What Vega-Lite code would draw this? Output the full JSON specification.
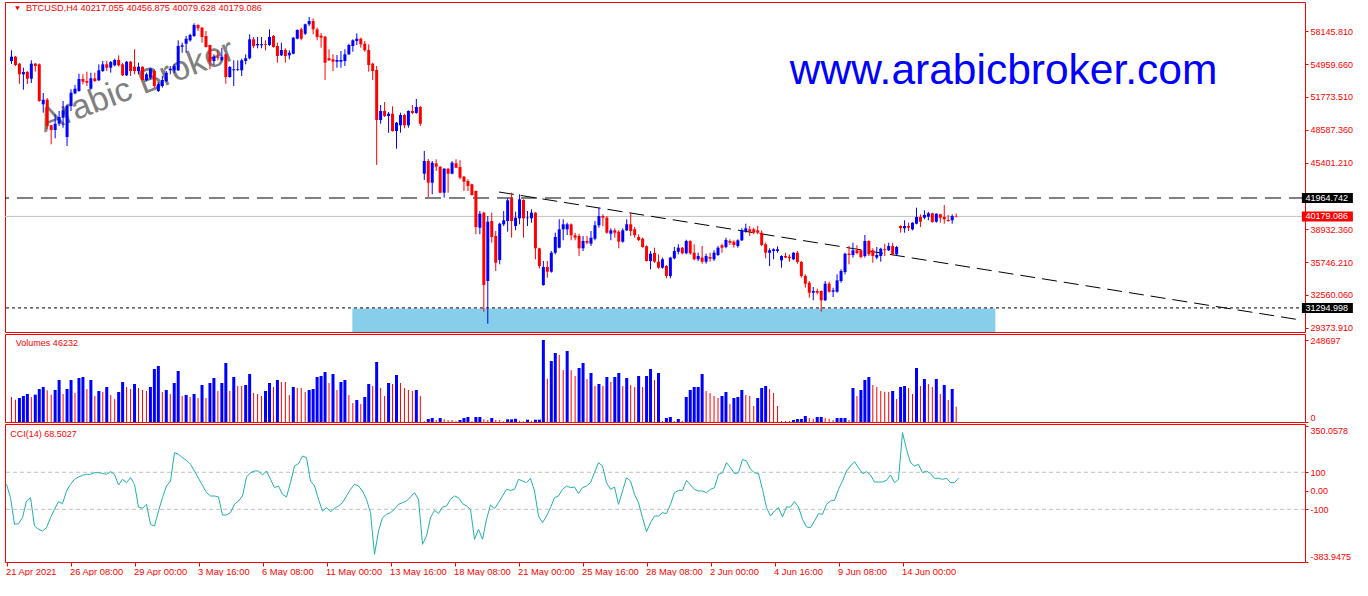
{
"$schema":"https://vega.github.io/schema/vega-lite/v6.json",
"background":"white",
"padding":{"left":4,"top":1,"right":0,"bottom":0},
"config":{"view":{"stroke":"#ff0000","strokeWidth":1},"font":"Liberation Sans",
"axis":{"labelFont":"Liberation Sans","labelFontSize":9,"labelColor":"#ff0000","tickColor":"#ff0000","tickSize":3,"domain":false,"grid":false,"labelOverlap":false}},
"datasets":{"one":[{}],"bars":[
{"i":0,"o":55263,"h":56301,"l":54972,"c":55680,"vol":75825,"vd":"d","cci":35},
{"i":1,"o":55680,"h":55748,"l":54777,"c":54875,"vol":67737,"vd":"d","cci":-37.1},
{"i":2,"o":55001,"h":55069,"l":53059,"c":53972,"vol":72792,"vd":"u","cci":-181.2},
{"i":3,"o":53972,"h":54612,"l":52477,"c":54195,"vol":78858,"vd":"u","cci":-177.6},
{"i":4,"o":54195,"h":54292,"l":53030,"c":53545,"vol":84924,"vd":"u","cci":-145.2},
{"i":5,"o":53545,"h":55331,"l":53127,"c":55001,"vol":75825,"vd":"d","cci":-55.1},
{"i":6,"o":55001,"h":55069,"l":54224,"c":54777,"vol":82902,"vd":"u","cci":-37.1},
{"i":7,"o":54943,"h":55020,"l":51312,"c":51380,"vol":100089,"vd":"u","cci":-190.2},
{"i":8,"o":51060,"h":52157,"l":50244,"c":51506,"vol":106155,"vd":"u","cci":-208.2},
{"i":9,"o":51506,"h":51671,"l":48662,"c":48953,"vol":96045,"vd":"d","cci":-217.3},
{"i":10,"o":49021,"h":49050,"l":47177,"c":48565,"vol":82902,"vd":"d","cci":-199.2},
{"i":11,"o":48565,"h":50089,"l":47759,"c":49176,"vol":97056,"vd":"u","cci":-145.2},
{"i":12,"o":49176,"h":50409,"l":48953,"c":49827,"vol":127386,"vd":"u","cci":-100.1},
{"i":13,"o":49759,"h":51380,"l":48788,"c":50477,"vol":84924,"vd":"d","cci":-58.7},
{"i":14,"o":47885,"h":50992,"l":47012,"c":50894,"vol":100089,"vd":"u","cci":-69.5},
{"i":15,"o":50894,"h":52516,"l":50409,"c":52186,"vol":127386,"vd":"u","cci":-1.1},
{"i":16,"o":52128,"h":52933,"l":52030,"c":52574,"vol":87957,"vd":"d","cci":35},
{"i":17,"o":52351,"h":54030,"l":52283,"c":53516,"vol":133452,"vd":"u","cci":62},
{"i":18,"o":53516,"h":53972,"l":53001,"c":53253,"vol":136485,"vd":"u","cci":74.6},
{"i":19,"o":53321,"h":54224,"l":52836,"c":53156,"vol":100089,"vd":"d","cci":83.6},
{"i":20,"o":52574,"h":54127,"l":52477,"c":53584,"vol":127386,"vd":"u","cci":89},
{"i":21,"o":53584,"h":54127,"l":53224,"c":53321,"vol":78858,"vd":"d","cci":89},
{"i":22,"o":53389,"h":54943,"l":53321,"c":54360,"vol":94023,"vd":"u","cci":98},
{"i":23,"o":54292,"h":55263,"l":54195,"c":54943,"vol":90990,"vd":"d","cci":98},
{"i":24,"o":54943,"h":55263,"l":54292,"c":54612,"vol":106155,"vd":"u","cci":94.4},
{"i":25,"o":54612,"h":55263,"l":54127,"c":55166,"vol":81891,"vd":"d","cci":89},
{"i":26,"o":54845,"h":55486,"l":54748,"c":55360,"vol":69759,"vd":"d","cci":103.4},
{"i":27,"o":55360,"h":55816,"l":54748,"c":54845,"vol":90990,"vd":"u","cci":89},
{"i":28,"o":54943,"h":55069,"l":53807,"c":53875,"vol":121320,"vd":"u","cci":31.4},
{"i":29,"o":53875,"h":55263,"l":53807,"c":55195,"vol":106155,"vd":"d","cci":62},
{"i":30,"o":55195,"h":55263,"l":53807,"c":54292,"vol":100089,"vd":"d","cci":44},
{"i":31,"o":54709,"h":56399,"l":53972,"c":54292,"vol":115254,"vd":"u","cci":71},
{"i":32,"o":54292,"h":55098,"l":53972,"c":54709,"vol":103122,"vd":"d","cci":35},
{"i":33,"o":54709,"h":54740,"l":53389,"c":53418,"vol":97056,"vd":"d","cci":-87.5},
{"i":34,"o":53418,"h":54127,"l":53321,"c":53972,"vol":94023,"vd":"d","cci":-94.7},
{"i":35,"o":53642,"h":54612,"l":53486,"c":54515,"vol":106155,"vd":"u","cci":-73.1},
{"i":36,"o":54292,"h":54457,"l":52671,"c":52836,"vol":160749,"vd":"u","cci":-181.2},
{"i":37,"o":52351,"h":53156,"l":52254,"c":53001,"vol":169848,"vd":"u","cci":-190.2},
{"i":38,"o":52836,"h":53807,"l":52671,"c":53418,"vol":90990,"vd":"d","cci":-109.2},
{"i":39,"o":53321,"h":54292,"l":53224,"c":54127,"vol":97056,"vd":"u","cci":-37.1},
{"i":40,"o":54360,"h":54777,"l":53972,"c":54515,"vol":84924,"vd":"d","cci":26},
{"i":41,"o":54360,"h":54972,"l":54098,"c":54777,"vol":118287,"vd":"u","cci":53},
{"i":42,"o":54360,"h":57272,"l":54292,"c":56719,"vol":154683,"vd":"u","cci":206.1},
{"i":43,"o":56651,"h":57039,"l":56068,"c":56787,"vol":78858,"vd":"d","cci":197.1},
{"i":44,"o":56942,"h":57690,"l":56068,"c":57428,"vol":81891,"vd":"u","cci":179.1},
{"i":45,"o":57272,"h":57913,"l":57136,"c":57787,"vol":75825,"vd":"d","cci":164.7},
{"i":46,"o":57690,"h":58922,"l":57593,"c":58757,"vol":84924,"vd":"u","cci":143.1},
{"i":47,"o":58757,"h":58825,"l":58175,"c":58437,"vol":72792,"vd":"d","cci":107.1},
{"i":48,"o":58495,"h":58563,"l":57039,"c":57593,"vol":112221,"vd":"u","cci":67.4},
{"i":49,"o":57690,"h":58175,"l":56554,"c":56622,"vol":72792,"vd":"d","cci":29.6},
{"i":50,"o":56816,"h":56850,"l":54457,"c":55195,"vol":118287,"vd":"u","cci":-10.1},
{"i":51,"o":55263,"h":55913,"l":54875,"c":55680,"vol":133452,"vd":"u","cci":-28.1},
{"i":52,"o":55680,"h":56301,"l":55331,"c":55583,"vol":94023,"vd":"d","cci":-28.1},
{"i":53,"o":55360,"h":56554,"l":55263,"c":55680,"vol":118287,"vd":"u","cci":-33.5},
{"i":54,"o":55913,"h":55971,"l":53059,"c":53709,"vol":178947,"vd":"u","cci":-130.8},
{"i":55,"o":53709,"h":54777,"l":53642,"c":54681,"vol":94023,"vd":"d","cci":-130.8},
{"i":56,"o":54360,"h":55331,"l":52836,"c":54457,"vol":136485,"vd":"u","cci":-118.2},
{"i":57,"o":54389,"h":55331,"l":54292,"c":54457,"vol":109188,"vd":"d","cci":-73.1},
{"i":58,"o":54360,"h":55486,"l":53807,"c":55331,"vol":109188,"vd":"d","cci":-55.1},
{"i":59,"o":55263,"h":55913,"l":54943,"c":55525,"vol":112221,"vd":"u","cci":-28.1},
{"i":60,"o":55525,"h":57855,"l":55428,"c":57369,"vol":145584,"vd":"u","cci":74.6},
{"i":61,"o":57369,"h":57593,"l":56496,"c":56719,"vol":87957,"vd":"d","cci":98},
{"i":62,"o":56787,"h":57593,"l":56496,"c":56913,"vol":84924,"vd":"d","cci":107.1},
{"i":63,"o":56787,"h":57593,"l":56496,"c":56884,"vol":78858,"vd":"d","cci":107.1},
{"i":64,"o":56884,"h":57272,"l":56301,"c":56816,"vol":94023,"vd":"u","cci":85.4},
{"i":65,"o":56816,"h":58340,"l":56719,"c":57593,"vol":118287,"vd":"u","cci":107.1},
{"i":66,"o":57690,"h":57787,"l":56554,"c":56622,"vol":106155,"vd":"d","cci":62},
{"i":67,"o":56719,"h":57039,"l":55098,"c":55748,"vol":127386,"vd":"u","cci":17},
{"i":68,"o":55816,"h":57039,"l":55748,"c":56330,"vol":121320,"vd":"d","cci":26},
{"i":69,"o":56330,"h":56496,"l":55098,"c":55748,"vol":121320,"vd":"d","cci":-19.1},
{"i":70,"o":55816,"h":56301,"l":55428,"c":56068,"vol":81891,"vd":"d","cci":-33.5},
{"i":71,"o":55971,"h":57593,"l":55913,"c":57525,"vol":106155,"vd":"u","cci":44},
{"i":72,"o":57428,"h":58340,"l":57369,"c":58272,"vol":103122,"vd":"d","cci":134.1},
{"i":73,"o":58340,"h":58495,"l":57272,"c":57428,"vol":103122,"vd":"d","cci":146.7},
{"i":74,"o":57913,"h":58883,"l":57787,"c":58825,"vol":90990,"vd":"d","cci":188.1},
{"i":75,"o":58825,"h":59534,"l":58660,"c":59146,"vol":97056,"vd":"u","cci":179.1},
{"i":76,"o":59146,"h":59408,"l":57855,"c":58340,"vol":100089,"vd":"u","cci":53},
{"i":77,"o":58340,"h":58495,"l":57272,"c":57593,"vol":136485,"vd":"u","cci":26},
{"i":78,"o":57719,"h":57981,"l":56554,"c":57525,"vol":139518,"vd":"u","cci":-46.1},
{"i":79,"o":57622,"h":57690,"l":53418,"c":55098,"vol":151650,"vd":"u","cci":-109.2},
{"i":80,"o":55525,"h":56399,"l":55263,"c":55331,"vol":118287,"vd":"d","cci":-91.1},
{"i":81,"o":55428,"h":55913,"l":54292,"c":55195,"vol":145584,"vd":"u","cci":-112.8},
{"i":82,"o":55195,"h":55845,"l":54612,"c":55360,"vol":97056,"vd":"d","cci":-94.7},
{"i":83,"o":55195,"h":56234,"l":54612,"c":55360,"vol":121320,"vd":"u","cci":-82.1},
{"i":84,"o":55263,"h":56399,"l":54777,"c":55913,"vol":127386,"vd":"u","cci":-64.1},
{"i":85,"o":55913,"h":56942,"l":55845,"c":56816,"vol":81891,"vd":"d","cci":-28.1},
{"i":86,"o":56719,"h":57369,"l":56165,"c":57272,"vol":57627,"vd":"d","cci":8},
{"i":87,"o":57204,"h":57952,"l":56816,"c":57428,"vol":66726,"vd":"u","cci":35},
{"i":88,"o":57428,"h":57525,"l":56554,"c":56884,"vol":54594,"vd":"d","cci":26},
{"i":89,"o":56942,"h":57204,"l":56165,"c":56301,"vol":75825,"vd":"u","cci":-1.1},
{"i":90,"o":56330,"h":56884,"l":54224,"c":54875,"vol":115254,"vd":"u","cci":-46.1},
{"i":91,"o":55001,"h":55098,"l":53418,"c":54292,"vol":109188,"vd":"d","cci":-118.2},
{"i":92,"o":54389,"h":54777,"l":45168,"c":49536,"vol":181980,"vd":"u","cci":-343.4},
{"i":93,"o":49536,"h":50992,"l":49176,"c":50409,"vol":103122,"vd":"d","cci":-217.3},
{"i":94,"o":50409,"h":51283,"l":49827,"c":49924,"vol":78858,"vd":"d","cci":-145.2},
{"i":95,"o":49924,"h":50312,"l":48303,"c":50147,"vol":118287,"vd":"u","cci":-127.2},
{"i":96,"o":50147,"h":50866,"l":48400,"c":48468,"vol":115254,"vd":"d","cci":-118.2},
{"i":97,"o":48468,"h":49341,"l":46750,"c":49274,"vol":142551,"vd":"u","cci":-100.1},
{"i":98,"o":49021,"h":50244,"l":48303,"c":50021,"vol":118287,"vd":"d","cci":-73.1},
{"i":99,"o":50021,"h":50147,"l":48730,"c":49021,"vol":103122,"vd":"d","cci":-64.1},
{"i":100,"o":49021,"h":50477,"l":48788,"c":50409,"vol":97056,"vd":"d","cci":-55.1},
{"i":101,"o":50409,"h":50992,"l":50089,"c":50215,"vol":94023,"vd":"d","cci":-33.5},
{"i":102,"o":50215,"h":51574,"l":50147,"c":50797,"vol":97056,"vd":"u","cci":-10.1},
{"i":103,"o":50797,"h":50894,"l":48953,"c":49176,"vol":78858,"vd":"d","cci":-46.1},
{"i":104,"o":44323,"h":46527,"l":43711,"c":45556,"vol":3033,"vd":"d","cci":-289.3},
{"i":105,"o":45556,"h":45750,"l":42061,"c":43449,"vol":9099,"vd":"u","cci":-244.3},
{"i":106,"o":43449,"h":45556,"l":42324,"c":45391,"vol":12132,"vd":"u","cci":-145.2},
{"i":107,"o":45333,"h":45721,"l":44585,"c":45003,"vol":6066,"vd":"d","cci":-105.6},
{"i":108,"o":45003,"h":45050,"l":42420,"c":42479,"vol":12132,"vd":"u","cci":-123.6},
{"i":109,"o":42479,"h":44870,"l":41993,"c":44808,"vol":8088,"vd":"d","cci":-87.5},
{"i":110,"o":44808,"h":44850,"l":42479,"c":44323,"vol":6066,"vd":"d","cci":-82.1},
{"i":111,"o":44323,"h":45556,"l":44265,"c":45391,"vol":6066,"vd":"d","cci":-46.1},
{"i":112,"o":45333,"h":45721,"l":44847,"c":44902,"vol":3033,"vd":"d","cci":-28.1},
{"i":113,"o":44973,"h":45624,"l":43779,"c":43934,"vol":6066,"vd":"u","cci":-37.1},
{"i":114,"o":44032,"h":44100,"l":42644,"c":43546,"vol":12132,"vd":"u","cci":-69.5},
{"i":115,"o":43614,"h":43779,"l":42644,"c":43129,"vol":15165,"vd":"u","cci":-82.1},
{"i":116,"o":43294,"h":43352,"l":42200,"c":42255,"vol":3033,"vd":"d","cci":-100.1},
{"i":117,"o":42644,"h":42700,"l":38440,"c":39149,"vol":15165,"vd":"u","cci":-262.3},
{"i":118,"o":39081,"h":40702,"l":38440,"c":40440,"vol":15165,"vd":"u","cci":-208.2},
{"i":119,"o":40537,"h":40634,"l":30927,"c":33519,"vol":8088,"vd":"d","cci":-262.3},
{"i":120,"o":33907,"h":40216,"l":29762,"c":39663,"vol":6066,"vd":"d","cci":-154.2},
{"i":121,"o":39732,"h":40537,"l":37625,"c":38178,"vol":12132,"vd":"u","cci":-76.7},
{"i":122,"o":38275,"h":38761,"l":34878,"c":35683,"vol":6066,"vd":"d","cci":-96.5},
{"i":123,"o":35946,"h":39567,"l":35528,"c":39469,"vol":6066,"vd":"d","cci":-64.1},
{"i":124,"o":39411,"h":40702,"l":39246,"c":39799,"vol":2022,"vd":"d","cci":-28.1},
{"i":125,"o":39732,"h":41935,"l":38693,"c":41741,"vol":8088,"vd":"u","cci":8},
{"i":126,"o":41935,"h":42479,"l":38110,"c":39732,"vol":8088,"vd":"u","cci":2.5},
{"i":127,"o":39246,"h":40634,"l":38829,"c":40052,"vol":10110,"vd":"u","cci":8},
{"i":128,"o":39993,"h":42324,"l":39411,"c":41838,"vol":4044,"vd":"d","cci":62},
{"i":129,"o":41770,"h":41838,"l":38110,"c":39993,"vol":2022,"vd":"d","cci":53},
{"i":130,"o":39993,"h":40702,"l":39246,"c":40052,"vol":7077,"vd":"u","cci":44},
{"i":131,"o":39993,"h":40867,"l":39567,"c":40537,"vol":4044,"vd":"d","cci":67.4},
{"i":132,"o":40537,"h":40600,"l":36014,"c":37081,"vol":7077,"vd":"u","cci":-1.1},
{"i":133,"o":37081,"h":37139,"l":35140,"c":35363,"vol":7077,"vd":"u","cci":-136.2},
{"i":134,"o":33519,"h":35849,"l":33450,"c":35266,"vol":248697,"vd":"u","cci":-172.2},
{"i":135,"o":35266,"h":35849,"l":34228,"c":34810,"vol":131430,"vd":"d","cci":-136.2},
{"i":136,"o":34810,"h":36820,"l":34713,"c":36654,"vol":185013,"vd":"u","cci":-91.1},
{"i":137,"o":36654,"h":38596,"l":36499,"c":38178,"vol":209277,"vd":"u","cci":-37.1},
{"i":138,"o":37139,"h":39897,"l":37081,"c":38926,"vol":203211,"vd":"d","cci":-28.1},
{"i":139,"o":38926,"h":39897,"l":37858,"c":39411,"vol":157716,"vd":"d","cci":8},
{"i":140,"o":38926,"h":39567,"l":38372,"c":39411,"vol":215343,"vd":"u","cci":26},
{"i":141,"o":39411,"h":39500,"l":37858,"c":38343,"vol":157716,"vd":"d","cci":17},
{"i":142,"o":38343,"h":38596,"l":37858,"c":38110,"vol":139518,"vd":"d","cci":20.6},
{"i":143,"o":38275,"h":38499,"l":36334,"c":37081,"vol":163782,"vd":"u","cci":-15.5},
{"i":144,"o":37081,"h":38275,"l":36820,"c":37790,"vol":178947,"vd":"u","cci":17},
{"i":145,"o":37790,"h":38275,"l":37469,"c":37625,"vol":130419,"vd":"d","cci":26},
{"i":146,"o":37528,"h":38761,"l":37305,"c":38110,"vol":148617,"vd":"u","cci":44},
{"i":147,"o":38013,"h":39732,"l":37858,"c":39314,"vol":109188,"vd":"d","cci":98},
{"i":148,"o":39314,"h":41023,"l":39081,"c":40216,"vol":115254,"vd":"u","cci":152.1},
{"i":149,"o":40216,"h":40382,"l":39246,"c":40052,"vol":109188,"vd":"d","cci":134.1},
{"i":150,"o":40052,"h":40216,"l":38499,"c":38596,"vol":136485,"vd":"u","cci":44},
{"i":151,"o":38499,"h":39023,"l":37858,"c":38829,"vol":121320,"vd":"d","cci":8},
{"i":152,"o":38829,"h":39023,"l":38110,"c":38596,"vol":136485,"vd":"u","cci":20.6},
{"i":153,"o":38693,"h":38829,"l":37081,"c":37722,"vol":148617,"vd":"u","cci":-73.1},
{"i":154,"o":37722,"h":39023,"l":37625,"c":38829,"vol":109188,"vd":"d","cci":-1.1},
{"i":155,"o":38829,"h":39897,"l":38761,"c":39411,"vol":133452,"vd":"u","cci":71},
{"i":156,"o":39411,"h":40537,"l":38275,"c":38761,"vol":112221,"vd":"d","cci":53},
{"i":157,"o":38926,"h":39149,"l":38110,"c":38343,"vol":106155,"vd":"d","cci":-19.1},
{"i":158,"o":38178,"h":38440,"l":37790,"c":37883,"vol":139518,"vd":"u","cci":-64.1},
{"i":159,"o":38013,"h":38110,"l":37139,"c":37208,"vol":106155,"vd":"d","cci":-145.2},
{"i":160,"o":37276,"h":37373,"l":35800,"c":35849,"vol":139518,"vd":"u","cci":-220.9},
{"i":161,"o":35849,"h":36820,"l":35043,"c":36558,"vol":160749,"vd":"u","cci":-172.2},
{"i":162,"o":36625,"h":37139,"l":35683,"c":35781,"vol":127386,"vd":"d","cci":-136.2},
{"i":163,"o":35781,"h":36499,"l":35101,"c":35198,"vol":148617,"vd":"u","cci":-136.2},
{"i":164,"o":35198,"h":36179,"l":35101,"c":36014,"vol":3033,"vd":"d","cci":-118.2},
{"i":165,"o":35363,"h":35460,"l":34169,"c":34393,"vol":12132,"vd":"u","cci":-123.6},
{"i":166,"o":34393,"h":36250,"l":34169,"c":36179,"vol":15165,"vd":"u","cci":-73.1},
{"i":167,"o":36111,"h":37208,"l":36014,"c":36820,"vol":3033,"vd":"d","cci":-10.1},
{"i":168,"o":36751,"h":37469,"l":36499,"c":37139,"vol":9099,"vd":"u","cci":2.5},
{"i":169,"o":37139,"h":37208,"l":36499,"c":36596,"vol":3033,"vd":"d","cci":2.5},
{"i":170,"o":36596,"h":37916,"l":36499,"c":37790,"vol":75825,"vd":"u","cci":56.6},
{"i":171,"o":37790,"h":37858,"l":36450,"c":36596,"vol":97056,"vd":"u","cci":31.4},
{"i":172,"o":36654,"h":37469,"l":35917,"c":36014,"vol":106155,"vd":"u","cci":8},
{"i":173,"o":36014,"h":36654,"l":35849,"c":36334,"vol":106155,"vd":"u","cci":-1.1},
{"i":174,"o":36179,"h":37305,"l":35587,"c":35781,"vol":145584,"vd":"u","cci":-1.1},
{"i":175,"o":35781,"h":36558,"l":35587,"c":36334,"vol":94023,"vd":"d","cci":-10.1},
{"i":176,"o":36237,"h":36654,"l":35781,"c":36072,"vol":87957,"vd":"d","cci":8},
{"i":177,"o":36014,"h":36887,"l":35849,"c":36654,"vol":78858,"vd":"d","cci":17},
{"i":178,"o":36431,"h":37305,"l":36334,"c":37139,"vol":72792,"vd":"d","cci":89},
{"i":179,"o":37373,"h":37528,"l":36654,"c":37139,"vol":78858,"vd":"u","cci":98},
{"i":180,"o":37208,"h":38110,"l":37081,"c":37887,"vol":90990,"vd":"u","cci":152.1},
{"i":181,"o":37790,"h":37956,"l":37402,"c":37625,"vol":54594,"vd":"d","cci":125.1},
{"i":182,"o":37722,"h":37858,"l":37139,"c":37402,"vol":72792,"vd":"u","cci":92.6},
{"i":183,"o":37305,"h":37956,"l":37139,"c":37858,"vol":75825,"vd":"u","cci":98},
{"i":184,"o":37858,"h":39023,"l":37790,"c":38829,"vol":97056,"vd":"u","cci":170.1},
{"i":185,"o":38761,"h":39469,"l":38596,"c":39023,"vol":81891,"vd":"d","cci":161.1},
{"i":186,"o":38926,"h":39246,"l":38275,"c":38693,"vol":78858,"vd":"d","cci":116.1},
{"i":187,"o":38926,"h":39081,"l":38440,"c":38596,"vol":48528,"vd":"d","cci":98},
{"i":188,"o":38829,"h":39246,"l":38440,"c":38596,"vol":72792,"vd":"u","cci":92.6},
{"i":189,"o":38596,"h":38829,"l":37305,"c":37402,"vol":103122,"vd":"u","cci":8},
{"i":190,"o":37469,"h":37625,"l":36111,"c":36654,"vol":109188,"vd":"u","cci":-91.1},
{"i":191,"o":36654,"h":37081,"l":35363,"c":36887,"vol":100089,"vd":"d","cci":-136.2},
{"i":192,"o":36820,"h":37081,"l":36014,"c":36984,"vol":87957,"vd":"d","cci":-109.2},
{"i":193,"o":36820,"h":37276,"l":36654,"c":36984,"vol":48528,"vd":"d","cci":-91.1},
{"i":194,"o":35917,"h":36400,"l":35198,"c":36334,"vol":3033,"vd":"d","cci":-141.6},
{"i":195,"o":36334,"h":36654,"l":36111,"c":36179,"vol":3033,"vd":"d","cci":-87.5},
{"i":196,"o":36266,"h":36499,"l":35781,"c":36111,"vol":3033,"vd":"d","cci":-87.5},
{"i":197,"o":36014,"h":36700,"l":35917,"c":36654,"vol":6066,"vd":"u","cci":-58.7},
{"i":198,"o":36654,"h":36820,"l":35587,"c":35752,"vol":9099,"vd":"u","cci":-87.5},
{"i":199,"o":35752,"h":35849,"l":34228,"c":34393,"vol":9099,"vd":"u","cci":-154.2},
{"i":200,"o":34393,"h":34558,"l":33257,"c":33645,"vol":18198,"vd":"u","cci":-195.6},
{"i":201,"o":33742,"h":33907,"l":32286,"c":32771,"vol":12132,"vd":"d","cci":-199.2},
{"i":202,"o":32771,"h":33325,"l":32034,"c":32937,"vol":9099,"vd":"d","cci":-163.2},
{"i":203,"o":32937,"h":33160,"l":32616,"c":32771,"vol":15165,"vd":"u","cci":-123.6},
{"i":204,"o":32937,"h":33000,"l":30927,"c":32034,"vol":15165,"vd":"u","cci":-127.2},
{"i":205,"o":32034,"h":33907,"l":31966,"c":33645,"vol":12132,"vd":"d","cci":-73.1},
{"i":206,"o":33645,"h":33839,"l":32771,"c":32869,"vol":9099,"vd":"d","cci":-55.1},
{"i":207,"o":32869,"h":33257,"l":32354,"c":33004,"vol":6066,"vd":"d","cci":-51.5},
{"i":208,"o":32869,"h":34558,"l":32771,"c":33975,"vol":12132,"vd":"u","cci":8},
{"i":209,"o":33907,"h":35043,"l":33742,"c":34878,"vol":12132,"vd":"u","cci":53},
{"i":210,"o":34780,"h":36654,"l":34558,"c":36558,"vol":12132,"vd":"u","cci":107.1},
{"i":211,"o":36558,"h":37305,"l":35528,"c":36431,"vol":6066,"vd":"d","cci":134.1},
{"i":212,"o":36431,"h":37625,"l":36179,"c":36887,"vol":103122,"vd":"u","cci":157.5},
{"i":213,"o":36887,"h":37373,"l":36499,"c":36625,"vol":78858,"vd":"d","cci":125.1},
{"i":214,"o":36887,"h":36984,"l":36111,"c":36237,"vol":97056,"vd":"u","cci":92.6},
{"i":215,"o":36334,"h":38372,"l":36179,"c":37790,"vol":127386,"vd":"u","cci":103.4},
{"i":216,"o":37790,"h":37858,"l":36334,"c":36499,"vol":136485,"vd":"u","cci":85.4},
{"i":217,"o":36887,"h":37081,"l":35683,"c":36334,"vol":112221,"vd":"d","cci":47.6},
{"i":218,"o":36179,"h":37208,"l":36014,"c":36431,"vol":106155,"vd":"d","cci":47.6},
{"i":219,"o":36334,"h":37139,"l":35781,"c":37043,"vol":94023,"vd":"d","cci":47.6},
{"i":220,"o":36984,"h":37528,"l":36334,"c":36887,"vol":90990,"vd":"d","cci":56.6},
{"i":221,"o":36887,"h":37625,"l":36820,"c":37305,"vol":90990,"vd":"d","cci":85.4},
{"i":222,"o":37305,"h":37625,"l":36401,"c":36499,"vol":94023,"vd":"u","cci":44},
{"i":223,"o":36499,"h":37305,"l":36334,"c":37208,"vol":69759,"vd":"d","cci":62},
{"i":224,"o":39246,"h":39314,"l":38596,"c":39023,"vol":106155,"vd":"u","cci":314.2},
{"i":225,"o":39023,"h":39799,"l":38596,"c":39246,"vol":109188,"vd":"u","cci":224.2},
{"i":226,"o":39246,"h":39567,"l":38761,"c":39081,"vol":103122,"vd":"d","cci":152.1},
{"i":227,"o":38926,"h":39600,"l":38829,"c":39567,"vol":84924,"vd":"d","cci":134.1},
{"i":228,"o":39469,"h":41023,"l":39411,"c":40120,"vol":163782,"vd":"u","cci":143.1},
{"i":229,"o":40120,"h":40382,"l":39149,"c":39663,"vol":109188,"vd":"d","cci":98},
{"i":230,"o":40052,"h":40770,"l":39897,"c":40314,"vol":130419,"vd":"u","cci":107.1},
{"i":231,"o":40149,"h":40605,"l":39799,"c":40479,"vol":115254,"vd":"d","cci":92.6},
{"i":232,"o":40479,"h":40537,"l":39567,"c":39635,"vol":106155,"vd":"d","cci":67.4},
{"i":233,"o":39663,"h":40470,"l":39567,"c":40440,"vol":130419,"vd":"u","cci":67.4},
{"i":234,"o":40382,"h":40440,"l":39567,"c":40052,"vol":84924,"vd":"d","cci":62},
{"i":235,"o":40120,"h":41285,"l":39469,"c":39897,"vol":112221,"vd":"u","cci":67.4},
{"i":236,"o":39829,"h":40314,"l":39663,"c":39732,"vol":66726,"vd":"d","cci":44},
{"i":237,"o":39799,"h":40382,"l":39469,"c":40216,"vol":100089,"vd":"u","cci":44},
{"i":238,"o":40217.055,"h":40456.875,"l":40079.628,"c":40179.086,"vol":46232,"vd":"d","cci":68.5027}
]},
"spacing":2,
"bounds":"flush",
"resolve":{"scale":{"x":"independent","y":"independent"}},
"vconcat":[
{"width":1300,"height":330,
"layer":[
{"data":{"name":"one"},"mark":{"type":"rect","color":"#87ceeb"},
"encoding":{"x":{"datum":85.875,"type":"quantitative","scale":{"domain":[-0.375,324.625],"nice":false,"zero":false},"axis":null},"x2":{"datum":247.875},
"y":{"datum":31238,"type":"quantitative","scale":{"domain":[28957,60990],"nice":false,"zero":false},"axis":{"orient":"right","values":[58145.81,54959.66,51773.51,48587.36,45401.21,38932.36,35746.21,32560.06,29373.91],"format":".3f","title":null,"labelPadding":2,"labelFlush":false}},"y2":{"datum":28957}}},
{"data":{"name":"one"},"mark":{"type":"text","text":"Arabic Broker","font":"Liberation Sans","fontSize":34,"color":"#808080","angle":-21,"align":"center","baseline":"alphabetic"},
"encoding":{"x":{"datum":32.5,"type":"quantitative","scale":{"domain":[-0.375,324.625],"nice":false,"zero":false},"axis":null},
"y":{"datum":51914,"type":"quantitative","scale":{"domain":[28957,60990],"nice":false,"zero":false},"axis":{"orient":"right","values":[58145.81,54959.66,51773.51,48587.36,45401.21,38932.36,35746.21,32560.06,29373.91],"format":".3f","title":null,"labelPadding":2,"labelFlush":false}}}},
{"data":{"name":"one"},"mark":{"type":"rule","color":"#c0c0c0","strokeWidth":1},
"encoding":{"y":{"datum":40179.086,"type":"quantitative","scale":{"domain":[28957,60990],"nice":false,"zero":false},"axis":{"orient":"right","values":[58145.81,54959.66,51773.51,48587.36,45401.21,38932.36,35746.21,32560.06,29373.91],"format":".3f","title":null,"labelPadding":2,"labelFlush":false}}}},
{"data":{"name":"one"},"mark":{"type":"rule","color":"#000000","strokeWidth":1,"strokeDash":[16,8]},
"encoding":{"y":{"datum":41964.742,"type":"quantitative","scale":{"domain":[28957,60990],"nice":false,"zero":false},"axis":{"orient":"right","values":[58145.81,54959.66,51773.51,48587.36,45401.21,38932.36,35746.21,32560.06,29373.91],"format":".3f","title":null,"labelPadding":2,"labelFlush":false}}}},
{"data":{"name":"one"},"mark":{"type":"rule","color":"#000000","strokeWidth":1,"strokeDash":[3,3]},
"encoding":{"y":{"datum":31294.998,"type":"quantitative","scale":{"domain":[28957,60990],"nice":false,"zero":false},"axis":{"orient":"right","values":[58145.81,54959.66,51773.51,48587.36,45401.21,38932.36,35746.21,32560.06,29373.91],"format":".3f","title":null,"labelPadding":2,"labelFlush":false}}}},
{"data":{"values":[{"i":122.8,"p":42547},{"i":324.625,"p":30131}]},
"mark":{"type":"line","color":"#000000","strokeWidth":1,"strokeDash":[15,7]},
"encoding":{"x":{"field":"i","type":"quantitative","scale":{"domain":[-0.375,324.625],"nice":false,"zero":false},"axis":null},
"y":{"field":"p","type":"quantitative","scale":{"domain":[28957,60990],"nice":false,"zero":false},"axis":{"orient":"right","values":[58145.81,54959.66,51773.51,48587.36,45401.21,38932.36,35746.21,32560.06,29373.91],"format":".3f","title":null,"labelPadding":2,"labelFlush":false}}}},
{"data":{"name":"bars"},
"mark":{"type":"rule","strokeWidth":1},
"encoding":{"x":{"field":"i","type":"quantitative","scale":{"domain":[-0.375,324.625],"nice":false,"zero":false},"axis":null},
"y":{"field":"l","type":"quantitative","scale":{"domain":[28957,60990],"nice":false,"zero":false},"axis":{"orient":"right","values":[58145.81,54959.66,51773.51,48587.36,45401.21,38932.36,35746.21,32560.06,29373.91],"format":".3f","title":null,"labelPadding":2,"labelFlush":false}},
"y2":{"field":"h"},
"color":{"condition":{"test":"datum.c >= datum.o","value":"#0000ff"},"value":"#ff0000"}}},
{"data":{"name":"bars"},
"mark":{"type":"bar","size":3,"minBandSize":1},
"encoding":{"x":{"field":"i","type":"quantitative","scale":{"domain":[-0.375,324.625],"nice":false,"zero":false},"axis":null},
"y":{"field":"o","type":"quantitative","scale":{"domain":[28957,60990],"nice":false,"zero":false},"axis":{"orient":"right","values":[58145.81,54959.66,51773.51,48587.36,45401.21,38932.36,35746.21,32560.06,29373.91],"format":".3f","title":null,"labelPadding":2,"labelFlush":false}},
"y2":{"field":"c"},
"color":{"condition":{"test":"datum.c >= datum.o","value":"#0000ff"},"value":"#ff0000"}}},
{"data":{"name":"one"},"mark":{"type":"rect","color":"#000000"},
"encoding":{"x":{"datum":325.1,"type":"quantitative","scale":{"domain":[-0.375,324.625],"nice":false,"zero":false},"axis":null},"x2":{"datum":337.95},
"y":{"datum":42450,"type":"quantitative","scale":{"domain":[28957,60990],"nice":false,"zero":false},"axis":{"orient":"right","values":[58145.81,54959.66,51773.51,48587.36,45401.21,38932.36,35746.21,32560.06,29373.91],"format":".3f","title":null,"labelPadding":2,"labelFlush":false}},"y2":{"datum":41480}}},
{"data":{"name":"one"},"mark":{"type":"rect","color":"#ff0000"},
"encoding":{"x":{"datum":325.1,"type":"quantitative","scale":{"domain":[-0.375,324.625],"nice":false,"zero":false},"axis":null},"x2":{"datum":337.95},
"y":{"datum":40664,"type":"quantitative","scale":{"domain":[28957,60990],"nice":false,"zero":false},"axis":{"orient":"right","values":[58145.81,54959.66,51773.51,48587.36,45401.21,38932.36,35746.21,32560.06,29373.91],"format":".3f","title":null,"labelPadding":2,"labelFlush":false}},"y2":{"datum":39694}}},
{"data":{"name":"one"},"mark":{"type":"rect","color":"#000000"},
"encoding":{"x":{"datum":325.1,"type":"quantitative","scale":{"domain":[-0.375,324.625],"nice":false,"zero":false},"axis":null},"x2":{"datum":337.95},
"y":{"datum":31780,"type":"quantitative","scale":{"domain":[28957,60990],"nice":false,"zero":false},"axis":{"orient":"right","values":[58145.81,54959.66,51773.51,48587.36,45401.21,38932.36,35746.21,32560.06,29373.91],"format":".3f","title":null,"labelPadding":2,"labelFlush":false}},"y2":{"datum":30810}}},
{"data":{"values":[{"p":41964.742,"lab":"41964.742"},{"p":40179.086,"lab":"40179.086"},{"p":31294.998,"lab":"31294.998"}]},
"mark":{"type":"text","align":"left","baseline":"middle","font":"Liberation Sans","fontSize":9,"color":"#ffffff"},
"encoding":{"x":{"datum":326.0,"type":"quantitative","scale":{"domain":[-0.375,324.625],"nice":false,"zero":false},"axis":null},
"y":{"field":"p","type":"quantitative","scale":{"domain":[28957,60990],"nice":false,"zero":false},"axis":{"orient":"right","values":[58145.81,54959.66,51773.51,48587.36,45401.21,38932.36,35746.21,32560.06,29373.91],"format":".3f","title":null,"labelPadding":2,"labelFlush":false}},
"text":{"field":"lab"}}},
{"data":{"name":"one"},"mark":{"type":"text","text":"www.arabicbroker.com","font":"Liberation Sans","fontSize":42.5,"color":"#0000ff","align":"left","baseline":"alphabetic"},
"encoding":{"x":{"datum":196.1,"type":"quantitative","scale":{"domain":[-0.375,324.625],"nice":false,"zero":false},"axis":null},
"y":{"datum":53030,"type":"quantitative","scale":{"domain":[28957,60990],"nice":false,"zero":false},"axis":{"orient":"right","values":[58145.81,54959.66,51773.51,48587.36,45401.21,38932.36,35746.21,32560.06,29373.91],"format":".3f","title":null,"labelPadding":2,"labelFlush":false}}}},
{"data":{"name":"one"},"mark":{"type":"text","text":"BTCUSD,H4  40217.055 40456.875 40079.628 40179.086","font":"Liberation Sans","fontSize":9.2,"color":"#ff0000","align":"left","baseline":"middle"},
"encoding":{"x":{"datum":3.625,"type":"quantitative","scale":{"domain":[-0.375,324.625],"nice":false,"zero":false},"axis":null},
"y":{"datum":60378,"type":"quantitative","scale":{"domain":[28957,60990],"nice":false,"zero":false},"axis":{"orient":"right","values":[58145.81,54959.66,51773.51,48587.36,45401.21,38932.36,35746.21,32560.06,29373.91],"format":".3f","title":null,"labelPadding":2,"labelFlush":false}}}},
{"data":{"name":"one"},"mark":{"type":"point","shape":"triangle-down","filled":true,"size":22,"color":"#ff0000","opacity":1},
"encoding":{"x":{"datum":1.5,"type":"quantitative","scale":{"domain":[-0.375,324.625],"nice":false,"zero":false},"axis":null},
"y":{"datum":60378,"type":"quantitative","scale":{"domain":[28957,60990],"nice":false,"zero":false},"axis":{"orient":"right","values":[58145.81,54959.66,51773.51,48587.36,45401.21,38932.36,35746.21,32560.06,29373.91],"format":".3f","title":null,"labelPadding":2,"labelFlush":false}}}}
]},
{"width":1300,"height":88,
"layer":[
{"data":{"name":"bars"},
"mark":{"type":"bar"},
"encoding":{"x":{"field":"i","type":"quantitative","scale":{"domain":[-0.375,324.625],"nice":false,"zero":false},"axis":null},
"y":{"field":"vol","type":"quantitative","scale":{"domain":[0,266900],"nice":false},"axis":{"orient":"right","values":[0,248697],"format":"d","title":null,"labelPadding":2,"labelFlush":3}},
"color":{"condition":{"test":"datum.vd == 'u'","value":"#0000ff"},"value":"#ff0000"},
"size":{"condition":{"test":"datum.vd == 'u'","value":3},"value":1}}},
{"data":{"name":"one"},"mark":{"type":"text","text":"Volumes 46232","font":"Liberation Sans","fontSize":9,"color":"#ff0000","align":"left","baseline":"middle"},
"encoding":{"x":{"datum":1.1,"type":"quantitative","scale":{"domain":[-0.375,324.625],"nice":false,"zero":false},"axis":null},
"y":{"datum":239600,"type":"quantitative","scale":{"domain":[0,266900],"nice":false},"axis":{"orient":"right","values":[0,248697],"format":"d","title":null,"labelPadding":2,"labelFlush":3}}}}
]},
{"width":1300,"height":138,
"layer":[
{"data":{"name":"one"},"mark":{"type":"rule","color":"#c0c0c0","strokeWidth":1,"strokeDash":[4,3]},
"encoding":{"y":{"datum":100,"type":"quantitative","scale":{"domain":[-384.8,361],"nice":false,"zero":false},"axis":{"orient":"right","values":[350.0578,100,0,-100,-383.9475],"labelExpr":"datum.value == 0 ? '0.00' : datum.value == 100 ? '100' : datum.value == -100 ? '-100' : datum.value > 0 ? '350.0578' : '-383.9475'","title":null,"labelPadding":2,"labelFlush":4}}}},
{"data":{"name":"one"},"mark":{"type":"rule","color":"#c0c0c0","strokeWidth":1,"strokeDash":[4,3]},
"encoding":{"y":{"datum":-100,"type":"quantitative","scale":{"domain":[-384.8,361],"nice":false,"zero":false},"axis":{"orient":"right","values":[350.0578,100,0,-100,-383.9475],"labelExpr":"datum.value == 0 ? '0.00' : datum.value == 100 ? '100' : datum.value == -100 ? '-100' : datum.value > 0 ? '350.0578' : '-383.9475'","title":null,"labelPadding":2,"labelFlush":4}}}},
{"data":{"name":"bars"},
"mark":{"type":"line","color":"#20b2aa","strokeWidth":1},
"encoding":{"x":{"field":"i","type":"quantitative","scale":{"domain":[-0.375,324.625],"nice":false,"zero":false},"axis":{"orient":"bottom","values":[0,16,32,48,64,80,96,112,128,144,160,176,192,208,224],"labelExpr":"['21 Apr 2021','26 Apr 08:00','29 Apr 00:00','3 May 16:00','6 May 08:00','11 May 00:00','13 May 16:00','18 May 08:00','21 May 00:00','25 May 16:00','28 May 08:00','2 Jun 00:00','4 Jun 16:00','9 Jun 08:00','14 Jun 00:00'][round(datum.value/16)]","labelAlign":"left","labelOffset":-1,"labelPadding":1,"labelFontSize":9.4,"tickSize":4,"labelFlush":false,"title":null}},
"y":{"field":"cci","type":"quantitative","scale":{"domain":[-384.8,361],"nice":false,"zero":false},"axis":{"orient":"right","values":[350.0578,100,0,-100,-383.9475],"labelExpr":"datum.value == 0 ? '0.00' : datum.value == 100 ? '100' : datum.value == -100 ? '-100' : datum.value > 0 ? '350.0578' : '-383.9475'","title":null,"labelPadding":2,"labelFlush":4}}}},
{"data":{"name":"one"},"mark":{"type":"text","text":"CCI(14) 68.5027","font":"Liberation Sans","fontSize":9,"color":"#ff0000","align":"left","baseline":"middle"},
"encoding":{"x":{"datum":0.95,"type":"quantitative","scale":{"domain":[-0.375,324.625],"nice":false,"zero":false},"axis":{"orient":"bottom","values":[0,16,32,48,64,80,96,112,128,144,160,176,192,208,224],"labelExpr":"['21 Apr 2021','26 Apr 08:00','29 Apr 00:00','3 May 16:00','6 May 08:00','11 May 00:00','13 May 16:00','18 May 08:00','21 May 00:00','25 May 16:00','28 May 08:00','2 Jun 00:00','4 Jun 16:00','9 Jun 08:00','14 Jun 00:00'][round(datum.value/16)]","labelAlign":"left","labelOffset":-1,"labelPadding":1,"labelFontSize":9.4,"tickSize":4,"labelFlush":false,"title":null}},
"y":{"datum":308.6,"type":"quantitative","scale":{"domain":[-384.8,361],"nice":false,"zero":false},"axis":{"orient":"right","values":[350.0578,100,0,-100,-383.9475],"labelExpr":"datum.value == 0 ? '0.00' : datum.value == 100 ? '100' : datum.value == -100 ? '-100' : datum.value > 0 ? '350.0578' : '-383.9475'","title":null,"labelPadding":2,"labelFlush":4}}}}
]}
]
}
